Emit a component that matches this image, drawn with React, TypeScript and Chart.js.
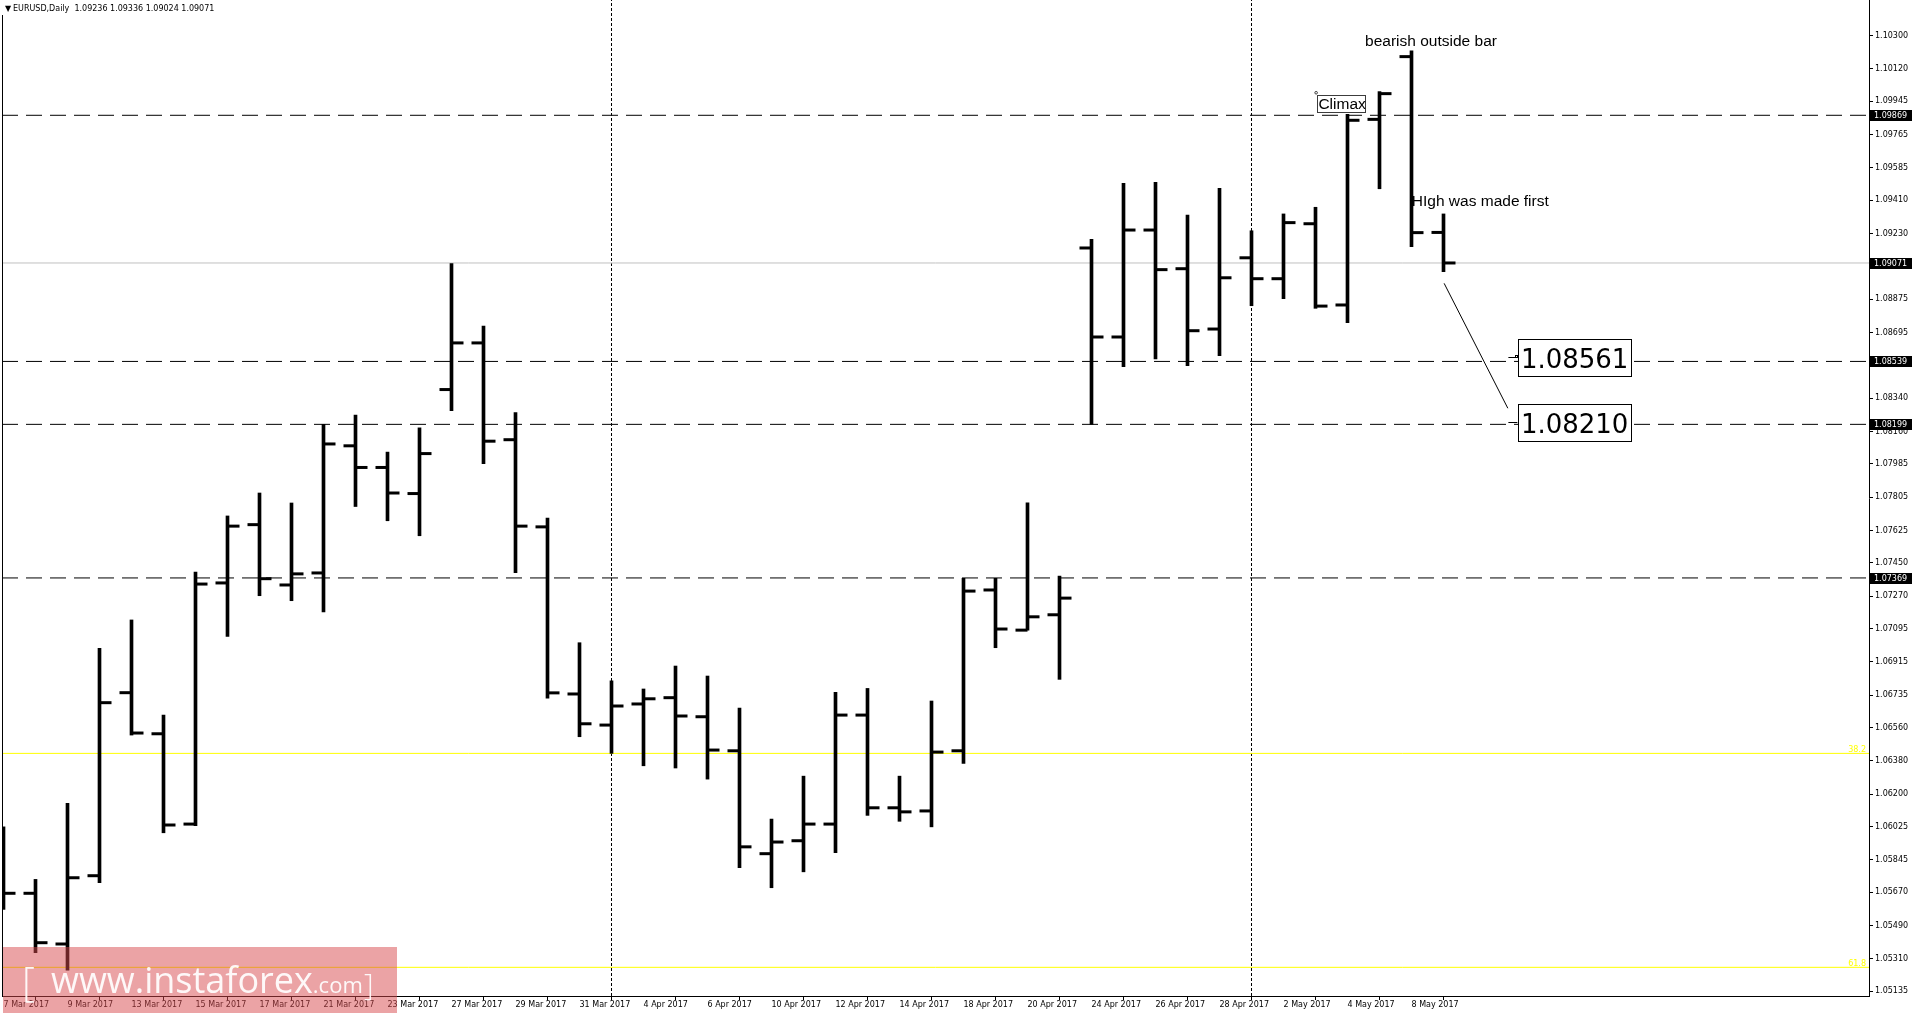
import React, { useEffect, useRef } from 'react';
import Chart from 'chart.js/auto';

// ---------- data ----------
const dates = [
  '7 Mar 2017', '8 Mar 2017', '9 Mar 2017', '10 Mar 2017', '13 Mar 2017', '14 Mar 2017', '15 Mar 2017',
  '16 Mar 2017', '17 Mar 2017', '20 Mar 2017', '21 Mar 2017', '22 Mar 2017', '23 Mar 2017', '24 Mar 2017',
  '27 Mar 2017', '28 Mar 2017', '29 Mar 2017', '30 Mar 2017', '31 Mar 2017', '3 Apr 2017', '4 Apr 2017',
  '5 Apr 2017', '6 Apr 2017', '7 Apr 2017', '10 Apr 2017', '11 Apr 2017', '12 Apr 2017', '13 Apr 2017',
  '14 Apr 2017', '17 Apr 2017', '18 Apr 2017', '19 Apr 2017', '20 Apr 2017', '21 Apr 2017', '24 Apr 2017',
  '25 Apr 2017', '26 Apr 2017', '27 Apr 2017', '28 Apr 2017', '1 May 2017', '2 May 2017', '3 May 2017',
  '4 May 2017', '5 May 2017', '8 May 2017', '9 May 2017',
];

const opens = [
  1.05800, 1.05665, 1.05391, 1.05760, 1.06749, 1.06527, 1.06039, 1.07342, 1.07657, 1.07331,
  1.07396, 1.08083, 1.07966, 1.07825, 1.08387, 1.08639, 1.08116, 1.07645, 1.06742, 1.06574,
  1.06688, 1.06722, 1.06619, 1.06435, 1.05879, 1.05949, 1.06039, 1.06628, 1.06127, 1.06110,
  1.06435, 1.07304, 1.07087, 1.07170, 1.09152, 1.08671, 1.09249, 1.09040, 1.08714, 1.09099,
  1.08986, 1.09283, 1.08844, 1.09847, 1.10186, 1.09236,
];
const highs = [
  1.06024, 1.05740, 1.06151, 1.06989, 1.07142, 1.06628, 1.07401, 1.07704, 1.07828, 1.07774,
  1.08199, 1.08249, 1.08049, 1.08180, 1.09068, 1.08730, 1.08263, 1.07693, 1.07019, 1.06813,
  1.06769, 1.06893, 1.06839, 1.06666, 1.06066, 1.06298, 1.06751, 1.06772, 1.06298, 1.06704,
  1.07367, 1.07367, 1.07775, 1.07379, 1.09199, 1.09502, 1.09507, 1.09330, 1.09475, 1.09245,
  1.09336, 1.09372, 1.09874, 1.09997, 1.10218, 1.09336,
];
const lows = [
  1.05578, 1.05344, 1.05250, 1.05722, 1.06520, 1.05992, 1.06030, 1.07053, 1.07273, 1.07246,
  1.07186, 1.07755, 1.07678, 1.07597, 1.08273, 1.07987, 1.07398, 1.06719, 1.06511, 1.06421,
  1.06354, 1.06342, 1.06282, 1.05803, 1.05695, 1.05781, 1.05884, 1.06086, 1.06054, 1.06024,
  1.06367, 1.06992, 1.07087, 1.06821, 1.08199, 1.08510, 1.08552, 1.08516, 1.08570, 1.08840,
  1.08878, 1.08826, 1.08748, 1.09472, 1.09159, 1.09024,
];
const closes = [
  1.05665, 1.05398, 1.05749, 1.06695, 1.06531, 1.06034, 1.07336, 1.07649, 1.07365, 1.07391,
  1.08093, 1.07966, 1.07828, 1.08041, 1.08639, 1.08108, 1.07649, 1.06748, 1.06581, 1.06677,
  1.06716, 1.06623, 1.06439, 1.05916, 1.05942, 1.06039, 1.06628, 1.06127, 1.06105, 1.06428,
  1.07298, 1.07093, 1.07159, 1.07260, 1.08671, 1.09249, 1.09035, 1.08705, 1.08991, 1.08986,
  1.09289, 1.08838, 1.09842, 1.09986, 1.09235, 1.09071,
];

const yTickValues = [
  1.10300, 1.10120, 1.09945, 1.09765, 1.09585, 1.09410, 1.09230, 1.09050, 1.08875, 1.08695,
  1.08520, 1.08340, 1.08160, 1.07985, 1.07805, 1.07625, 1.07450, 1.07270, 1.07095, 1.06915,
  1.06735, 1.06560, 1.06380, 1.06200, 1.06025, 1.05845, 1.05670, 1.05490, 1.05310, 1.05135,
];

const dashedLevels = [1.09869, 1.08539, 1.08199, 1.07369];
const bidLevel = 1.09071;
const fibLevels = [1.06421, 1.05265];
const fibLabels = ['38.2', '61.8'];
const axisMarks = [1.09869, 1.09071, 1.08539, 1.08199, 1.07369];
const separators = [19, 39];

const textNotes = [
  { text: 'bearish outside bar', x: 42.55, y: 1.10243 },
  { text: 'HIgh was made first', x: 44.01, y: 1.09379 },
];
const climaxNote = { text: 'Climax', x: 41.06, y: 1.0998 };
const targetBoxes = [
  { text: '1.08561', x: 47.34, y: 1.08561 },
  { text: '1.08210', x: 47.34, y: 1.0821 },
];
const trendLine = [
  { x: 45.02, y: 1.08961 },
  { x: 47.01, y: 1.08286 },
];

// ---------- axis configuration ----------
const Y_MIN = 1.0511;
const Y_MAX = 1.10492;
const X_MIN = -0.046875;
const X_MAX = 58.296875;
const TICK_OFF = 6 / 32;

const AXIS_FONT = { family: '"DejaVu Sans", Tahoma, sans-serif', size: 8 };

const overlayPlugin = {
  id: 'mtOverlay',
  afterDatasetsDraw(chart: any) {
    const { ctx, scales } = chart;
    const xs = scales.x;
    const ys = scales.y;
    ctx.save();
    ctx.fillStyle = '#000';
    ctx.textAlign = 'left';
    ctx.textBaseline = 'alphabetic';
    ctx.font = '15.5px "Liberation Sans", Arial, sans-serif';
    for (const n of textNotes) {
      ctx.fillText(n.text, xs.getPixelForValue(n.x), ys.getPixelForValue(n.y));
    }
    // Climax box
    const cx = xs.getPixelForValue(climaxNote.x);
    const cy = ys.getPixelForValue(climaxNote.y);
    ctx.strokeStyle = '#3c3c3c';
    ctx.lineWidth = 1;
    ctx.strokeRect(Math.round(cx) + 0.5, Math.round(cy) + 0.5, 48, 17);
    ctx.fillText(climaxNote.text, cx + 1, cy + 14.6);
    ctx.beginPath();
    ctx.arc(cx - 1.3, cy - 2, 1.3, 0, Math.PI * 2);
    ctx.stroke();
    // target boxes
    ctx.strokeStyle = '#000';
    ctx.font = '26px "DejaVu Sans", Tahoma, sans-serif';
    targetBoxes.forEach((b, k) => {
      const bx = xs.getPixelForValue(b.x);
      const by = ys.getPixelForValue(b.y);
      ctx.fillStyle = '#fff';
      ctx.fillRect(bx, by - 18.5, 113, 37);
      ctx.strokeRect(Math.round(bx) + 0.5, Math.round(by - 18.5) + 0.5, 113, 37);
      ctx.fillStyle = '#000';
      ctx.fillText(b.text, bx + 2.5, by + 11);
      ctx.beginPath();
      ctx.moveTo(bx - 10, Math.round(by) + 0.5);
      ctx.lineTo(bx - 1, Math.round(by) + 0.5);
      ctx.stroke();
      if (k === 0) ctx.strokeRect(Math.round(bx) - 2.5, Math.round(by) - 1.5, 2, 2);
    });
    ctx.restore();
  },
  afterDraw(chart: any) {
    const { ctx, scales, chartArea } = chart;
    const ys = scales.y;
    ctx.save();
    // left frame
    ctx.fillStyle = '#000';
    ctx.fillRect(chartArea.left, 15, 1, chartArea.bottom - 15);
    // fib labels
    ctx.font = '8px "DejaVu Sans", Tahoma, sans-serif';
    ctx.textAlign = 'right';
    ctx.textBaseline = 'alphabetic';
    ctx.fillStyle = '#ffff00';
    fibLevels.forEach((v, k) => {
      ctx.fillText(fibLabels[k], chartArea.right - 3, ys.getPixelForValue(v) - 1);
    });
    // axis price labels
    ctx.textAlign = 'left';
    ctx.textBaseline = 'middle';
    for (const v of axisMarks) {
      const py = Math.round(ys.getPixelForValue(v));
      ctx.fillStyle = '#000';
      ctx.fillRect(chartArea.right + 1, py - 5, 43, 11);
      ctx.fillStyle = '#fff';
      ctx.fillText(v.toFixed(5), chartArea.right + 5, py + 0.5);
    }
    // title
    const n = closes.length - 1;
    ctx.fillStyle = '#000';
    ctx.font = '8px "DejaVu Sans", Tahoma, sans-serif';
    ctx.fillText('\u25BC', 5, 9);
    ctx.fillText(
      `EURUSD,Daily  ${opens[n].toFixed(5)} ${highs[n].toFixed(5)} ${lows[n].toFixed(5)} ${closes[n].toFixed(5)}`,
      13, 9,
    );
    // watermark
    ctx.fillStyle = 'rgba(215,72,76,0.5)';
    ctx.fillRect(3, 947, 394, 66);
    ctx.fillStyle = 'rgba(255,255,255,0.93)';
    ctx.textBaseline = 'alphabetic';
    ctx.font = '300 40px "Open Sans", sans-serif';
    ctx.fillText('[', 22, 996);
    ctx.font = '300 30px "Open Sans", sans-serif';
    ctx.fillText(']', 364, 995);
    ctx.font = '36px "Open Sans", sans-serif';
    ctx.fillText('www.instaforex', 51, 993);
    const w = ctx.measureText('www.instaforex').width;
    ctx.font = '22px "Open Sans", sans-serif';
    ctx.fillText('.com', 51 + w, 993);
    ctx.restore();
  },
};

function hLine(v: number, color: string, dash: number[], order: number) {
  return {
    type: 'line',
    data: [{ x: X_MIN, y: v }, { x: X_MAX, y: v }],
    borderColor: color,
    borderWidth: 1,
    borderDash: dash,
    pointRadius: 0,
    fill: false,
    order,
    clip: 0,
  };
}

export default function App() {
  const ref = useRef<HTMLCanvasElement | null>(null);
  useEffect(() => {
    document.body.style.margin = '0';
    const datasets: any[] = [
      {
        type: 'bar',
        data: dates.map((_, i) => ({ x: i, y: [lows[i], highs[i]] })),
        backgroundColor: '#000',
        borderWidth: 0,
        barThickness: 3,
        order: 1,
      },
      {
        type: 'scatter',
        data: dates.map((_, i) => ({ x: i - TICK_OFF, y: opens[i] })),
        pointStyle: 'line',
        pointRadius: 6,
        pointBorderWidth: 3,
        pointBorderColor: '#000',
        pointBackgroundColor: '#000',
        showLine: false,
        order: 1,
        clip: 0,
      },
      {
        type: 'scatter',
        data: dates.map((_, i) => ({ x: i + TICK_OFF, y: closes[i] })),
        pointStyle: 'line',
        pointRadius: 6,
        pointBorderWidth: 3,
        pointBorderColor: '#000',
        pointBackgroundColor: '#000',
        showLine: false,
        order: 1,
        clip: 0,
      },
      {
        type: 'line',
        data: trendLine,
        borderColor: '#000',
        borderWidth: 1,
        pointRadius: 0,
        fill: false,
        order: 2,
        clip: 0,
      },
      ...dashedLevels.map((v) => hLine(v, '#000', [16, 8], 5)),
      hLine(bidLevel, '#c0c0c0', [], 6),
      ...fibLevels.map((v) => hLine(v, '#ffff00', [], 6)),
      ...separators.map((s) => ({
        type: 'line',
        data: [{ x: s, y: Y_MIN }, { x: s, y: Y_MAX }],
        borderColor: '#000',
        borderWidth: 1,
        borderDash: [3, 2],
        pointRadius: 0,
        fill: false,
        order: 7,
        clip: 0,
      })),
    ];

    const chart = new Chart(ref.current as HTMLCanvasElement, {
      type: 'scatter',
      data: { datasets },
      plugins: [overlayPlugin],
      options: {
        responsive: false,
        animation: false,
        devicePixelRatio: 1,
        events: [],
        layout: { autoPadding: false, padding: { left: 2, top: 0, right: 0, bottom: 0 } },
        plugins: {
          legend: { display: false },
          tooltip: { enabled: false },
          title: { display: false },
        },
        scales: {
          x: {
            type: 'linear',
            min: X_MIN,
            max: X_MAX,
            offset: false,
            afterBuildTicks: (s: any) => {
              s.ticks = dates.map((_, i) => i).filter((i) => i % 2 === 0).map((v) => ({ value: v }));
            },
            afterFit: (s: any) => {
              s.height = 20;
              s.paddingLeft = 0;
              s.paddingRight = 0;
            },
            ticks: {
              autoSkip: false,
              maxRotation: 0,
              minRotation: 0,
              align: 'start',
              padding: 0,
              color: '#000',
              font: AXIS_FONT,
              callback: (v: any) => dates[Math.round(Number(v))] ?? '',
            },
            grid: { display: true, drawOnChartArea: false, drawTicks: true, tickLength: 4, color: '#000' },
            border: { display: true, color: '#000', width: 1 },
          },
          y: {
            type: 'linear',
            position: 'right',
            min: Y_MIN,
            max: Y_MAX,
            afterBuildTicks: (s: any) => {
              s.ticks = yTickValues.map((v) => ({ value: v }));
            },
            afterFit: (s: any) => {
              s.width = 43;
              s.paddingTop = 0;
              s.paddingBottom = 0;
            },
            ticks: {
              autoSkip: false,
              padding: 2,
              color: '#000',
              font: AXIS_FONT,
              callback: (v: any) => Number(v).toFixed(5),
            },
            grid: { display: true, drawOnChartArea: false, drawTicks: true, tickLength: 4, color: '#000' },
            border: { display: true, color: '#000', width: 1 },
          },
        },
      } as any,
    } as any);
    return () => chart.destroy();
  }, []);

  return (
    <div style={{ width: 1912, height: 1016, background: '#fff' }}>
      <canvas ref={ref} width={1912} height={1016} style={{ display: 'block', width: 1912, height: 1016 }} />
    </div>
  );
}
